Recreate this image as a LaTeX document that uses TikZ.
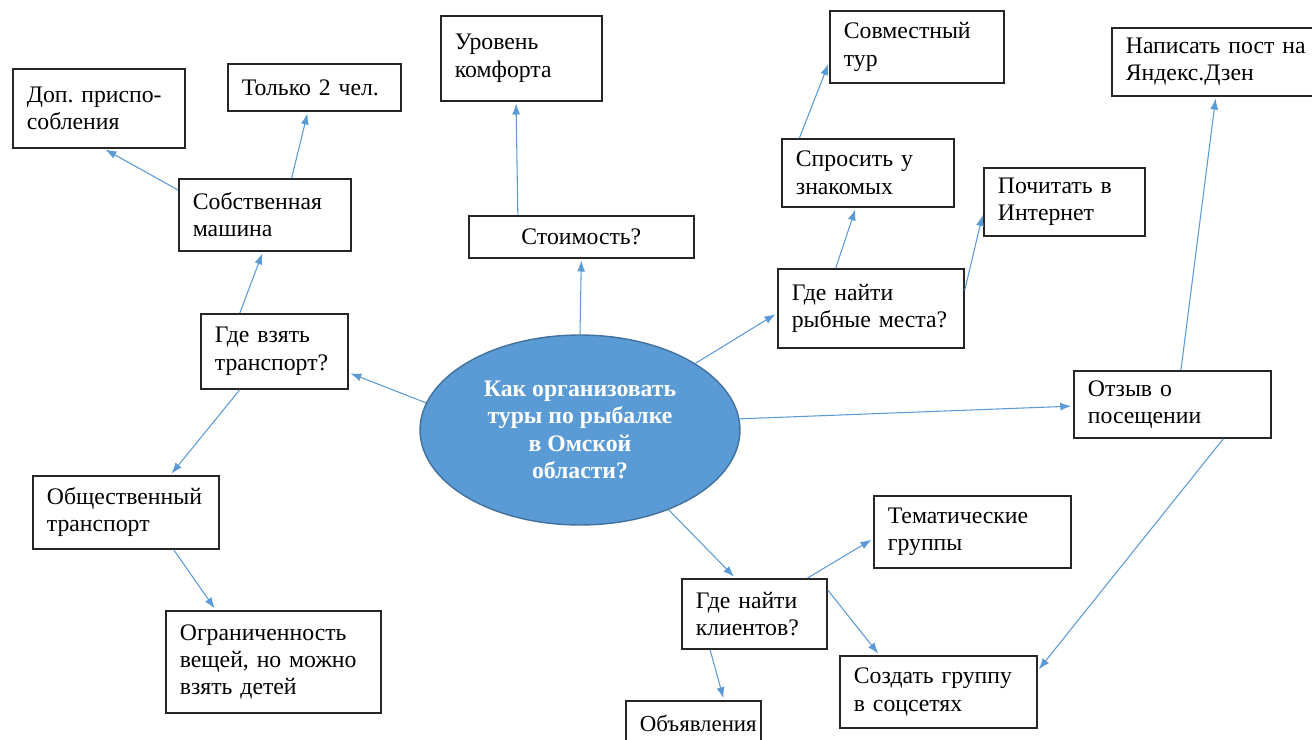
\documentclass[tikz,border=0pt]{standalone}
\usepackage{fontspec}
\setmainfont{Liberation Serif}
\usetikzlibrary{shapes.geometric, arrows.meta}
\frenchspacing

\definecolor{linkblue}{RGB}{91,155,213}
\definecolor{hubedge}{RGB}{65,113,156}

\begin{document}
\begin{tikzpicture}
        [
            x=0.02cm, y=-0.02cm,
            idea/.style = {draw=black!85, shape=rectangle, anchor=north west, align=left, inner xsep=0.28cm, line width=1pt, font=\fontsize{13.5}{15.5}\selectfont},
            hubnode/.style = {draw=hubedge, fill=linkblue, shape=ellipse, minimum width=6.4cm, minimum height=3.8cm, line width=0.8pt, align=center, text=white, font=\fontsize{13.5}{15.5}\selectfont\bfseries},
            link/.style = {draw=linkblue, line width=0.6pt, -{Latex[length=2.2mm,width=1.6mm]}, shorten >=1pt},
        ]

        \clip (0,0) rectangle (1312,740);
        \fill[white] (0,0) rectangle (1312,740);

        % centre
        \node[hubnode] (hub) at (580,430) {Как организовать\\туры по рыбалке\\в Омской\\области?};

        % transport branch
        \node[idea, text width=2.38cm, minimum height=1.50cm] (trans) at (200,313) {Где взять\\транспорт?};
        \node[idea, text width=2.88cm, minimum height=1.44cm] (car) at (178,178) {Собственная\\машина};
        \node[idea, text width=2.88cm, minimum height=1.58cm] (dop) at (12,68) {Доп. приспо-\\собления};
        \node[idea, text width=2.90cm, minimum height=0.94cm] (two) at (227,63) {Только 2 чел.};
        \node[idea, text width=3.16cm, minimum height=1.46cm] (public) at (32,475) {Общественный\\транспорт};
        \node[idea, text width=3.74cm, minimum height=2.04cm] (limit) at (165,610) {Ограниченность\\вещей, но можно\\взять детей};

        % cost branch
        \node[idea, align=center, text width=3.94cm, minimum height=0.84cm] (cost) at (468,215) {Стоимость?};
        \node[idea, text width=2.66cm, minimum height=1.70cm] (comfort) at (440,15) {Уровень\\комфорта};

        % fishing spots branch
        \node[idea, text width=3.16cm, minimum height=1.58cm] (spots) at (777,268) {Где найти\\рыбные места?};
        \node[idea, text width=2.88cm, minimum height=1.36cm] (ask) at (781,138) {Спросить у\\знакомых};
        \node[idea, text width=2.92cm, minimum height=1.44cm] (joint) at (829,10) {Совместный\\тур};
        \node[idea, text width=2.66cm, minimum height=1.36cm] (read) at (983,167) {Почитать в\\Интернет};

        % review branch
        \node[idea, text width=3.38cm, minimum height=1.34cm] (review) at (1073,370) {Отзыв о\\посещении};
        \node[idea, text width=3.82cm, minimum height=1.36cm] (post) at (1111,27) {Написать пост на\\Яндекс.Дзен};

        % clients branch
        \node[idea, text width=2.34cm, minimum height=1.40cm] (clients) at (681,578) {Где найти\\клиентов?};
        \node[idea, text width=3.38cm, minimum height=1.44cm] (topic) at (873,495) {Тематические\\группы};
        \node[idea, text width=3.38cm, minimum height=1.44cm] (group) at (839,655) {Создать группу\\в соцсетях};
        \node[idea, text width=2.14cm, minimum height=0.92cm, font=\fontsize{13}{15}\selectfont] (ads) at (625,700) {Объявления};

        \draw[link] (hub.170) -- (trans.344);
        \draw[link] (trans.132) -- (car.267);
        \draw[link] (car.164) -- (dop.277);
        \draw[link] (car.54) -- (two.255);
        \draw[link] (trans.228) -- (public.40);
        \draw[link] (public.322) -- (limit.138);

        \draw[link] (hub.90) -- (cost.270);
        \draw[link] (cost.161) -- (comfort.263);

        \draw[link] (hub.30) -- (spots.183);
        \draw[link] (spots.131) -- (ask.251);
        \draw[link] (ask.153) -- (joint.190);
        \draw[link] (spots.11) -- (read.188);

        \draw[link] (hub.4) -- (review.181);
        \draw[link] (review.76) -- (post.261);
        \draw[link] (review.326) -- (group.12);

        \draw[link] (hub.318) -- (clients.118);
        \draw[link] (clients.34) -- (topic.184);
        \draw[link] (clients.18) -- (group.148);
        \draw[link] (clients.219) -- (ads.38);
    \end{tikzpicture}
\end{document}
